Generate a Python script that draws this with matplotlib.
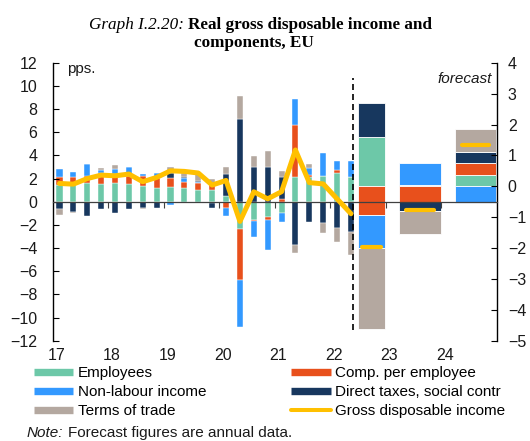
import numpy as np
import matplotlib
matplotlib.use("Agg")
import matplotlib.pyplot as plt
from matplotlib.lines import Line2D

plt.rcParams['font.family'] = ['Liberation Sans', 'DejaVu Sans']

# quarterly contributions 2017Q1 - 2022Q2, pps. (left axis)
employees = [1.44, 1.45, 1.60, 1.53, 1.64, 1.53, 1.36, 1.16, 1.24, 1.16, 1.00,
             1.00, 0.50, -2.39, -1.57, -1.34, -1.00, 2.10, 2.17, 2.22, 2.50, 2.17]
comp_per_employee = [0.66, 0.66, 0.60, 0.92, 0.75, 0.69, 0.90, 0.90, 0.78, 0.58, 0.62,
                     0.55, -0.50, -4.37, -0.13, -0.23, 0.23, 4.50, 0.17, 0.00, 0.25, 0.00]
non_labour = [0.69, 0.49, 1.05, 0.29, 0.43, 0.80, 0.17, 0.45, -0.28, 0.29, 0.10,
              -0.12, -0.70, -4.02, -1.30, -2.59, -0.72, 2.30, 0.55, 1.96, 0.80, 1.37]
direct_taxes = [-0.66, -0.85, -1.20, -0.65, -0.94, -0.62, -0.55, -0.50, 0.43, 0.09, 0.10,
                -0.40, 1.90, 7.13, 3.00, 3.03, 1.87, -3.73, -1.71, -1.83, -2.30, -2.62]
terms_of_trade = [-0.48, -0.08, 0.00, 0.14, 0.35, 0.00, -0.08, 0.00, 0.52, 0.34, 0.55,
                  0.40, 0.60, 2.00, 0.92, 1.38, 0.57, -0.70, 0.37, -0.90, -1.15, -1.95]
gdi = [1.58, 1.52, 2.00, 2.30, 2.24, 2.39, 1.73, 2.10, 2.67, 2.62, 2.48,
       1.44, 1.84, -1.70, 0.86, 0.25, 0.87, 4.47, 1.65, 1.54, 0.25, -1.03]

# annual forecast figures (right axis)
ann_employees = [1.58, 0.03, 0.38]
ann_comp = [-0.93, -0.51, 0.36]
ann_non_labour = [-1.07, 0.74, -0.54]
ann_direct_taxes = [1.10, -0.29, 0.37]
ann_terms_of_trade = [-2.62, -0.74, 0.76]
ann_gdi = [-1.97, -0.76, 1.33]

year_labels = ['17', '18', '19', '20', '21', '22', '23', '24']
names = ['Employees', 'Comp. per employee', 'Non-labour income',
         'Direct taxes, social contr', 'Terms of trade']
colors = ['#6DC8A8', '#E8501C', '#3399FF', '#17375E', '#B4A8A0']
yellow = '#FFC000'


def stacked(ax, x, series, width, lw):
    pos = np.zeros(len(x))
    neg = np.zeros(len(x))
    for vals, c in zip(series, colors):
        vals = np.asarray(vals, float)
        bottom = np.where(vals >= 0, pos, neg)
        ax.bar(x, vals, width, bottom=bottom, color=c, edgecolor='white', linewidth=lw)
        pos += np.clip(vals, 0, None)
        neg += np.clip(vals, None, 0)


fig = plt.figure(figsize=(5.3, 4.41), dpi=100)
ax = fig.add_axes([0.0991, 0.2272, 0.8381, 0.6306])
ax2 = ax.twinx()
ax.set_zorder(ax2.get_zorder() + 1)
ax.patch.set_visible(False)

# quarterly bars and line
xq = 2017 + (np.arange(len(gdi)) + 0.5) / 4
stacked(ax, xq, [employees, comp_per_employee, non_labour, direct_taxes, terms_of_trade],
        0.11, 0.3)
ax.plot(xq, gdi, color=yellow, lw=3.6, solid_joinstyle='round', solid_capstyle='round',
        zorder=3)
ax.vlines(2022.41, -11.06, 10.7, colors='black', lw=1.2, linestyles=(0, (3.6, 2.4)))

# annual bars
xa = np.array([2022.745, 2023.62, 2024.62])
wa = np.array([0.5, 0.75, 0.75])
stacked(ax2, xa, [ann_employees, ann_comp, ann_non_labour, ann_direct_taxes,
                  ann_terms_of_trade], wa, 0.6)
ax2.hlines(ann_gdi, xa - wa * 0.33, xa + wa * 0.33, colors=yellow, lw=3,
           capstyle='round', zorder=3)

ax.set_xlim(2017, 2025)
ax.set_ylim(-12, 12)
ax.set_yticks(range(-12, 13, 2))
ax2.set_ylim(-5, 4)
ax2.set_yticks(range(-5, 5))

for s in ['top', 'right']:
    ax.spines[s].set_visible(False)
for s in ['top', 'left', 'bottom']:
    ax2.spines[s].set_visible(False)
ax.spines['bottom'].set_position(('data', 0))
ax.spines['bottom'].set_color('#404040')
ax.spines['bottom'].set_linewidth(0.9)
ax.spines['left'].set_linewidth(1.0)
ax2.spines['right'].set_linewidth(1.0)

ax.set_xticks(range(2018, 2025))
ax.tick_params(axis='x', direction='out', length=4, color='#404040', labelbottom=False)
ax.tick_params(axis='y', direction='in', length=4, pad=11, labelsize=11.5,
               labelcolor='#1a1a1a')
ax2.tick_params(axis='y', direction='in', length=4, pad=8, labelsize=11.5,
                labelcolor='#1a1a1a')

sec = ax.secondary_xaxis('bottom')
sec.set_xticks(np.arange(2017, 2025) + 0.07, year_labels)
sec.tick_params(length=0, pad=5, labelsize=11.5, labelcolor='#1a1a1a')
sec.spines['bottom'].set_visible(False)

ax.text(0.032, 0.976, 'pps.', transform=ax.transAxes, fontsize=11, va='center',
        color='#1a1a1a')
ax.text(0.989, 0.941, 'forecast', transform=ax.transAxes, fontsize=11, va='center',
        ha='right', style='italic', color='#1a1a1a')

# title
serif = ['Liberation Serif', 'DejaVu Serif']
fig.text(89 / 530, 1 - 29.3 / 441, 'Graph I.2.20:', family=serif, style='italic',
         fontsize=12.3, va='baseline')
fig.text(188 / 530, 1 - 29.3 / 441, 'Real gross disposable income and', family=serif,
         weight='bold', fontsize=12.3, va='baseline')
fig.text(254 / 530, 1 - 46.7 / 441, 'components, EU', family=serif, weight='bold',
         fontsize=12.3, va='baseline', ha='center')

# legend
handles = [Line2D([], [], color=c, lw=5.3, solid_capstyle='butt') for c in colors]
gdi_handle = Line2D([], [], color=yellow, lw=2.9, solid_capstyle='round')
col1 = [(handles[0], names[0]), (handles[2], names[2]), (handles[4], names[4])]
col2 = [(handles[1], names[1]), (handles[3], names[3]), (gdi_handle, 'Gross disposable income')]
for col, x0 in [(col1, 33.7), (col2, 291)]:
    fig.legend([h for h, _ in col], [n for _, n in col], loc='upper left',
               bbox_to_anchor=(x0 / 530, 1 - 366 / 441), frameon=False, borderpad=0,
               borderaxespad=0, handlelength=2.6, handletextpad=0.3, labelspacing=0.33,
               fontsize=11)

fig.text(27 / 530, 1 - 437 / 441, 'Note:', style='italic', fontsize=11, va='baseline',
         color='#1a1a1a')
fig.text(67.7 / 530, 1 - 437 / 441, 'Forecast figures are annual data.', fontsize=11,
         va='baseline', color='#1a1a1a')

fig.savefig('out.png', dpi=100)
